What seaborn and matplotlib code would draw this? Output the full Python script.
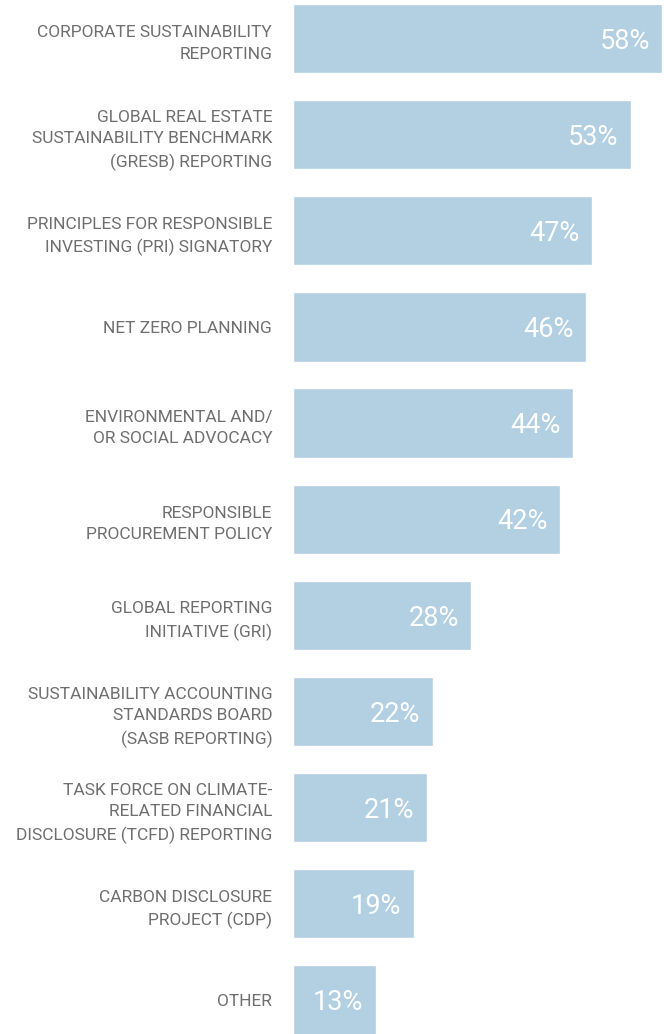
import matplotlib
matplotlib.use("Agg")
import matplotlib.pyplot as plt
import seaborn as sns
import pandas as pd
from matplotlib import font_manager

categories = [
    "CORPORATE SUSTAINABILITY\nREPORTING",
    "GLOBAL REAL ESTATE\nSUSTAINABILITY BENCHMARK\n(GRESB) REPORTING",
    "PRINCIPLES FOR RESPONSIBLE\nINVESTING (PRI) SIGNATORY",
    "NET ZERO PLANNING",
    "ENVIRONMENTAL AND/\nOR SOCIAL ADVOCACY",
    "RESPONSIBLE\nPROCUREMENT POLICY",
    "GLOBAL REPORTING\nINITIATIVE (GRI)",
    "SUSTAINABILITY ACCOUNTING\nSTANDARDS BOARD\n(SASB REPORTING)",
    "TASK FORCE ON CLIMATE-\nRELATED FINANCIAL\nDISCLOSURE (TCFD) REPORTING",
    "CARBON DISCLOSURE\nPROJECT (CDP)",
    "OTHER",
]
values = [58, 53, 47, 46, 44, 42, 28, 22, 21, 19, 13]

sns.set_theme(style="white")
names = {f.name for f in font_manager.fontManager.ttflist}
fam = [f for f in ["Liberation Sans Narrow", "Roboto", "DejaVu Sans"] if f in names]
plt.rcParams["font.family"] = fam

df = pd.DataFrame({"category": categories, "value": values})

fig = plt.figure(figsize=(6.64, 10.34), dpi=100)
ax = fig.add_axes([293 / 664, 0, 370 / 664, 1])
sns.barplot(data=df, x="value", y="category", orient="h", color="#B2D0E2",
            saturation=1, width=0.72, ax=ax)
ax.set_xlim(0, 58.1)
ax.set_ylim(10.354, -0.4)
ax.set_xlabel("")
ax.set_ylabel("")
ax.set_xticks([])
for s in ax.spines.values():
    s.set_visible(False)
ax.tick_params(axis="y", length=0, pad=15, labelsize=12.5, labelcolor="#6f6f6f")
for t in ax.get_yticklabels():
    t.set_linespacing(1.55)

for i, v in enumerate(values):
    ax.annotate(f"{v}%", xy=(v, i), xytext=(-9, -2), textcoords="offset points",
                ha="right", va="center", color="white", fontsize=19.5)

fig.savefig("out.png", dpi=100)
